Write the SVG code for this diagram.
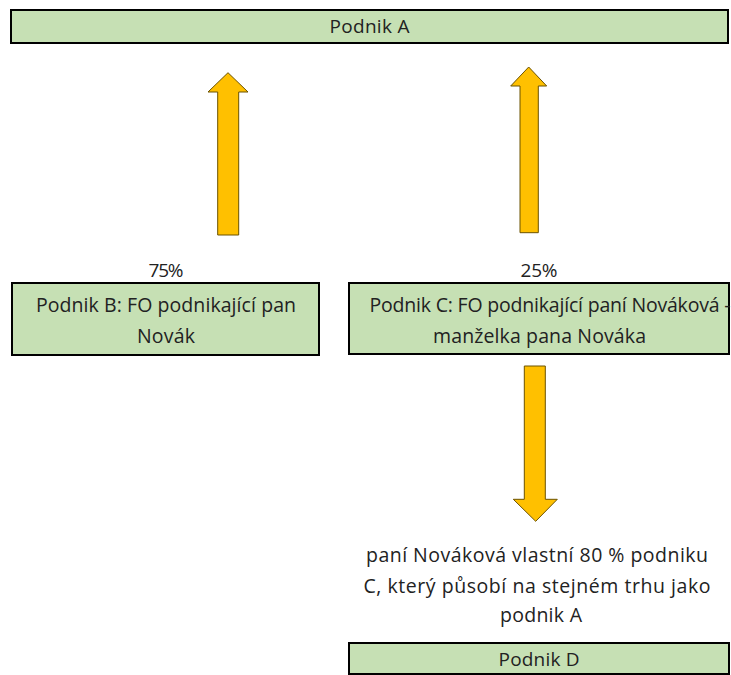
<svg xmlns="http://www.w3.org/2000/svg" width="731" height="675" viewBox="0 0 731 675">
<style>
.box{fill:#C6E0B4;stroke:#000;stroke-width:2}
.arr{fill:#FFC000;stroke:#6B5200;stroke-width:1}
text{font-family:"Open Sans","Liberation Sans",sans-serif;font-size:19.5px;fill:#222;text-anchor:middle}
.s{font-size:19px}
</style>
<rect width="731" height="675" fill="#fff"/>
<g id="podnikA">
<rect class="box" x="11" y="10" width="717" height="33"/>
<text class="s" x="369.5" y="33" textLength="80">Podnik A</text>
</g>
<g id="podnikB">
<text class="s" x="166" y="277" textLength="35">75%</text>
<rect class="box" x="12" y="283" width="307" height="72"/>
<text x="166" y="312" textLength="260">Podnik B: FO podnikající pan</text>
<text x="166" y="343" textLength="58">Novák</text>
</g>
<g id="podnikC">
<text class="s" x="539" y="277" textLength="37">25%</text>
<rect class="box" x="349" y="283" width="380" height="71"/>
<text x="550" y="312" textLength="361">Podnik C: FO podnikající paní Nováková -</text>
<text x="539.5" y="343" textLength="213">manželka pana Nováka</text>
</g>
<g id="note">
<text x="537" y="562" textLength="342">paní Nováková vlastní 80 % podniku</text>
<text x="537" y="593" textLength="347">C, který působí na stejném trhu jako</text>
<text x="541" y="622" textLength="82">podnik A</text>
</g>
<g id="podnikD">
<rect class="box" x="349" y="643" width="380" height="31"/>
<text class="s" x="539" y="666" textLength="81">Podnik D</text>
</g>
<g id="connectors">
<polygon class="arr" points="217.7,235 238.7,235 238.7,92 248,92 228,72.7 208,92 217.7,92"/>
<polygon class="arr" points="520,232.7 538.3,232.7 538.3,86 546.7,86 528.7,67 510.7,86 520,86"/>
<polygon class="arr" points="524.3,366 545.3,366 545.3,499.3 557.3,499.3 535.7,521.3 513.3,499.3 524.3,499.3"/>
</g>
</svg>
